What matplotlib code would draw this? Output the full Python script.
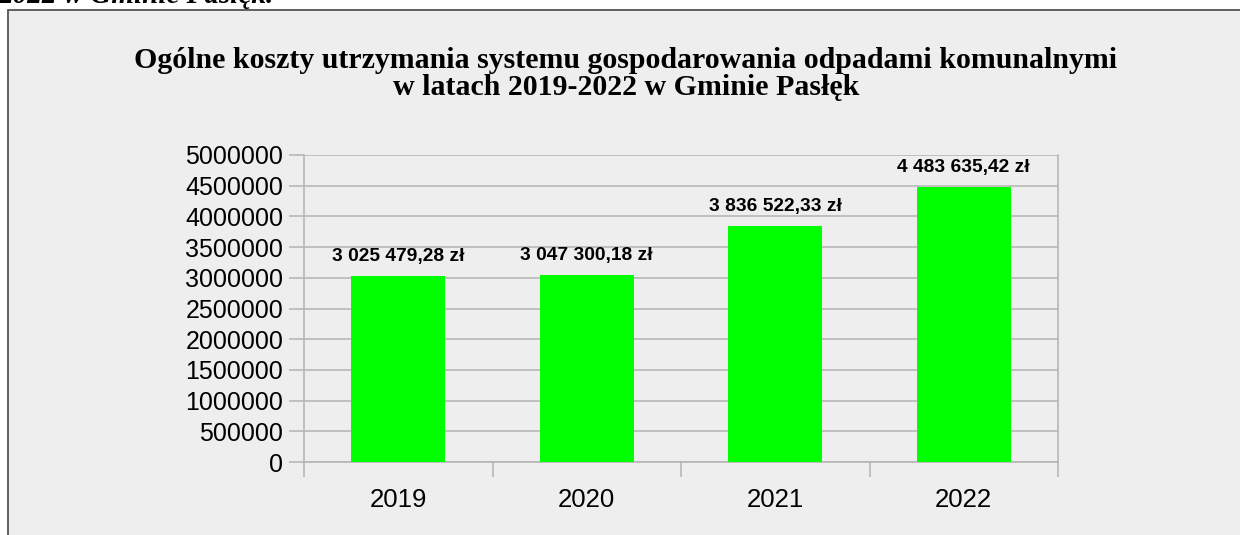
import matplotlib
matplotlib.use("Agg")
import matplotlib.pyplot as plt
from matplotlib.patches import Rectangle
from matplotlib.ticker import FixedLocator

years = ["2019", "2020", "2021", "2022"]
costs = [3025479.28, 3047300.18, 3836522.33, 4483635.42]
labels = ["3 025 479,28 zł", "3 047 300,18 zł", "3 836 522,33 zł", "4 483 635,42 zł"]
yticks = [0, 500000, 1000000, 1500000, 2000000, 2500000, 3000000, 3500000,
          4000000, 4500000, 5000000]

W, H = 1240, 535
fig = plt.figure(figsize=(W / 100, H / 100), dpi=100)
fig.patch.set_facecolor("white")

# chart frame
fig.patches.append(Rectangle((8 / W, -0.1), 1.2, (H - 10) / H + 0.1,
                             transform=fig.transFigure, facecolor="#eeeeee",
                             edgecolor="#555555", linewidth=1.3, zorder=-5))

# cropped caption at top
fig.text(-2 / W, (H - 3) / H, "2022 w Gminie Pasłęk.", family="Liberation Serif",
         fontsize=21, fontweight="bold", style="italic", ha="left", va="baseline")

fig.text(626 / W, (H - 74) / H,
         "Ogólne koszty utrzymania systemu gospodarowania odpadami komunalnymi\nw latach 2019-2022 w Gminie Pasłęk",
         family="Liberation Serif", fontsize=21.5, fontweight="bold",
         ha="center", va="center", linespacing=1.0)

ax = fig.add_axes([304 / W, (H - 462) / H, 754 / W, 307 / H])
ax.set_facecolor("none")
x = list(range(len(years)))
ax.bar(x, costs, width=0.5, color="#00ff00", zorder=3)
ax.set_xlim(-0.5, 3.5)
ax.set_ylim(0, 5000000)

gc = "#b3b3b3"
ax.set_yticks(yticks)
ax.set_yticklabels([str(v) for v in yticks], family="Liberation Sans", fontsize=18)
ax.yaxis.grid(True, color=gc, linewidth=1.1, zorder=0)
ax.set_axisbelow(True)
ax.tick_params(axis="y", length=11, color=gc, width=1.1, pad=4)

ax.xaxis.set_major_locator(FixedLocator([-0.5, 0.5, 1.5, 2.5, 3.5]))
ax.set_xticklabels([""] * 5)
ax.xaxis.set_minor_locator(FixedLocator(x))
ax.set_xticklabels(years, minor=True, family="Liberation Sans", fontsize=18.5)
ax.tick_params(axis="x", which="major", length=11, color=gc, width=1.1)
ax.tick_params(axis="x", which="minor", length=0, pad=19)

for s in ["left", "right", "bottom", "top"]:
    ax.spines[s].set_color(gc)
    ax.spines[s].set_linewidth(1.1)
ax.spines["top"].set_visible(False)

for xi, v, lab in zip(x, costs, labels):
    ax.annotate(lab, (xi, v), xytext=(0, 14), textcoords="offset points",
                ha="center", va="center", family="Liberation Sans",
                fontsize=13.8, fontweight="bold", zorder=4)

fig.savefig("out.png", dpi=100)
